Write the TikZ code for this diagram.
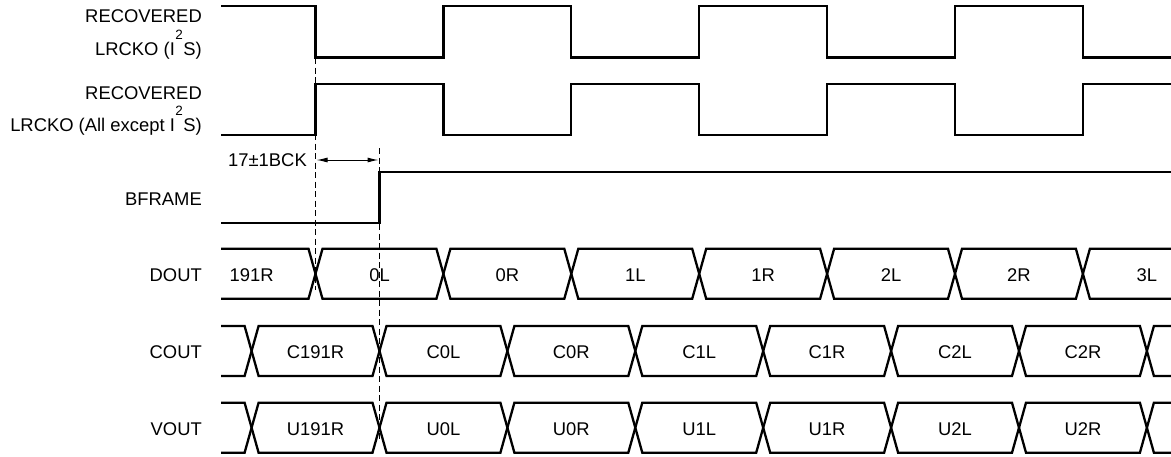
\documentclass[tikz,border=0pt]{standalone}
\usepackage{fontspec}
\setmainfont{Liberation Sans}
\usepackage{tikz}
\usetikzlibrary{arrows.meta}
\tikzset{
    wave/.style={
           draw=black, line width=2.3pt,
           },
    sig/.style={
           anchor=base east,
           inner sep=0pt,
           font=\fontsize{18.4}{21}\selectfont,
           },
    bus/.style={
           anchor=base,
           inner sep=0pt,
           font=\fontsize{18.4}{21}\selectfont,
           },
    guide/.style={
           draw=black, line width=0.9pt,
           dash pattern=on 6pt off 3.5pt,
           },
    delay/.style={
           draw=black, line width=1pt,
           {Latex[length=11pt,width=5pt]}-{Latex[length=11pt,width=5pt]},
           },
}
\newcommand{\iis}{I\kern0.5pt\raisebox{15.5pt}{\fontsize{13.5}{14}\selectfont 2}\kern0.5pt S}

\begin{document}
\begin{tikzpicture}[x=1pt,y=-1pt]
 \useasboundingbox (0,0) rectangle (1171,456);

 % signal names, right aligned before the waves
 \node[sig] (rec1)  at (202,22.7) {RECOVERED};
 \node[sig] (lrck1) at (202,55)   {LRCKO (\iis)};
 \node[sig] (rec2)  at (202,99.3) {RECOVERED};
 \node[sig] (lrck2) at (202,131)  {LRCKO (All except \iis)};
 \node[sig] (bfr)   at (202,205.7) {BFRAME};
 \node[sig] (dout)  at (202,281.7) {DOUT};
 \node[sig] (cout)  at (202,358)   {COUT};
 \node[sig] (vout)  at (202,435)   {VOUT};

 % LRCKO (I2S) and LRCKO (all except I2S)
 \draw[wave] (221,6) -- (315.5,6) |- (443.4,57.5) |- (571.3,6) |- (699.2,57.5)
   |- (827.1,6) |- (955,57.5) |- (1082.9,6) |- (1171,57.5);
 \draw[wave] (221,135) -- (315.5,135) |- (443.4,84) |- (571.3,135) |- (699.2,84)
   |- (827.1,135) |- (955,84) |- (1082.9,135) |- (1171,84);

 % BFRAME
 \draw[wave] (221,223.3) -- (379.5,223.3) |- (1171,172.3);

 % DOUT bus
 \draw[wave] (221,248.8) -- (308.5,248.8) -- (315.5,273.8) -- (308.5,298.8) -- (221,298.8);
 \foreach \a in {315.5,443.4,571.3,699.2,827.1,955}
  \draw[wave] (\a,273.8) -- ++(7,-25) -- ++(113.9,0) -- ++(7,25)
    -- ++(-7,25) -- ++(-113.9,0) -- cycle;
 \draw[wave] (1171,248.8) -- (1089.9,248.8) -- (1082.9,273.8) -- (1089.9,298.8) -- (1171,298.8);

 % COUT and VOUT buses
 \foreach \m in {351,427.7} {
  \draw[wave] (221,\m-25) -- (244.6,\m-25) -- (251.6,\m) -- (244.6,\m+25) -- (221,\m+25);
  \foreach \a in {251.6,379.5,507.4,635.3,763.2,891.1,1019}
   \draw[wave] (\a,\m) -- ++(7,-25) -- ++(113.9,0) -- ++(7,25)
     -- ++(-7,25) -- ++(-113.9,0) -- cycle;
  \draw[wave] (1171,\m-25) -- (1153.9,\m-25) -- (1146.9,\m) -- (1153.9,\m+25) -- (1171,\m+25);
 }

 % bus contents
 \foreach \lab [count=\i from 0] in {191R,0L,0R,1L,1R,2L,2R,3L}
  \node[bus] (d\i) at ({251.6+127.9*\i},281.7) {\lab};
 \foreach \lab [count=\i from 0] in {C191R,C0L,C0R,C1L,C1R,C2L,C2R}
  \node[bus] (c\i) at ({315.5+127.9*\i},358) {\lab};
 \foreach \lab [count=\i from 0] in {U191R,U0L,U0R,U1L,U1R,U2L,U2R}
  \node[bus] (u\i) at ({315.5+127.9*\i},435) {\lab};

 % timing guides and the 17+-1 BCK delay
 \coordinate (gA1) at (315.5,58);
 \coordinate (gA2) at (315.5,290);
 \coordinate (gB1) at (379.5,148);
 \coordinate (gB2) at (379.5,440);
 \draw[guide] (gA1) -- (gA2);
 \draw[guide] (gB1) -- (gB2);

 \coordinate (dA) at (316.5,160);
 \coordinate (dB) at (378.5,160);
 \draw[delay] (dA) -- (dB);
 \node[sig] (bck) at (307,166.7) {17±1BCK};

\end{tikzpicture}
\end{document}
